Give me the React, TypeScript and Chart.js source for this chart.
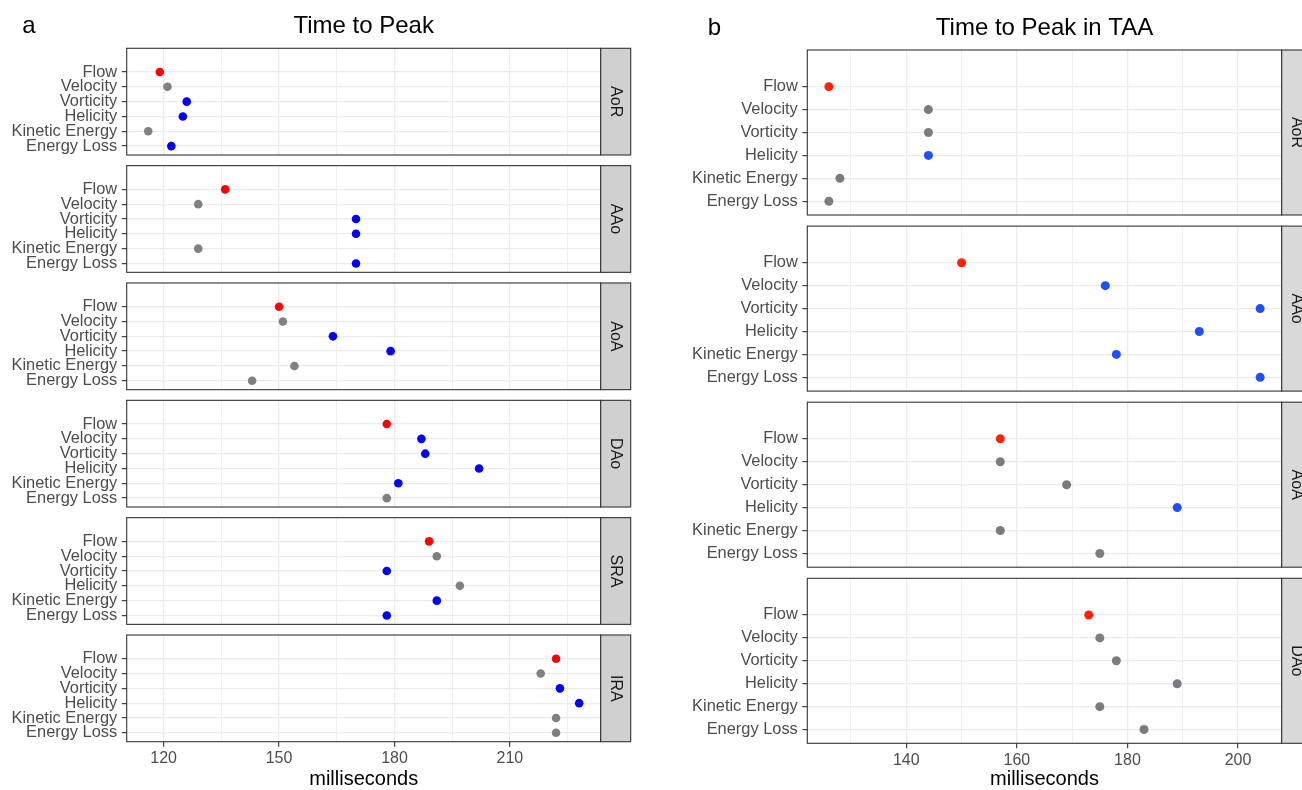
import React, { useEffect, useRef } from 'react';
import { Chart, registerables } from 'chart.js';

Chart.register(...registerables);

// ---------- DATA ----------
const metrics = ['Flow', 'Velocity', 'Vorticity', 'Helicity', 'Kinetic Energy', 'Energy Loss'];

// Panel a: Time to Peak (ms)
const regionsA = ['AoR', 'AAo', 'AoA', 'DAo', 'SRA', 'IRA'];
const aAoR = [119, 121, 126, 125, 116, 122];
const aAAo = [136, 129, 170, 170, 129, 170];
const aAoA = [150, 151, 164, 179, 154, 143];
const aDAo = [178, 187, 188, 202, 181, 178];
const aSRA = [189, 191, 178, 197, 191, 178];
const aIRA = [222, 218, 223, 228, 222, 222];
// group per point: ref = reference (Flow), sig = significant, ns = not significant
const gaAoR = ['ref', 'ns', 'sig', 'sig', 'ns', 'sig'];
const gaAAo = ['ref', 'ns', 'sig', 'sig', 'ns', 'sig'];
const gaAoA = ['ref', 'ns', 'sig', 'sig', 'ns', 'ns'];
const gaDAo = ['ref', 'sig', 'sig', 'sig', 'sig', 'ns'];
const gaSRA = ['ref', 'ns', 'sig', 'ns', 'sig', 'sig'];
const gaIRA = ['ref', 'ns', 'sig', 'sig', 'ns', 'ns'];
const xMajorA = [120, 150, 180, 210];
const xMinorA = [135, 165, 195, 225];

// Panel b: Time to Peak in TAA (ms)
const regionsB = ['AoR', 'AAo', 'AoA', 'DAo'];
const bAoR = [126, 144, 144, 144, 128, 126];
const bAAo = [150, 176, 204, 193, 178, 204];
const bAoA = [157, 157, 169, 189, 157, 175];
const bDAo = [173, 175, 178, 189, 175, 183];
const gbAoR = ['ref', 'ns', 'ns', 'sig', 'ns', 'ns'];
const gbAAo = ['ref', 'sig', 'sig', 'sig', 'sig', 'sig'];
const gbAoA = ['ref', 'ns', 'ns', 'sig', 'ns', 'ns'];
const gbDAo = ['ref', 'ns', 'ns', 'ns', 'ns', 'ns'];
const xMajorB = [140, 160, 180, 200];
const xMinorB = [130, 150, 170, 190];

// ---------- STYLE / LAYOUT ----------
const FONT = '"Liberation Sans", Arial, Helvetica, sans-serif';
const H = 790;

const panelA = {
  canvasLeft: 0, canvasWidth: 634, plotLeft: 126.7, plotRight: 600.7, stripW: 30,
  stripFill: '#D0D0D0', top0: 48.3, pitch: 117.34, h: 106.7, radius: 4.3,
  palette: { ref: '#FF0000', sig: '#0000FF', ns: '#808080' } as Record<string, string>,
  xMajor: xMajorA, xMinor: xMinorA,
  title: 'Time to Peak', titleBaseline: 32.5, tag: 'a', tagX: 29, tagBaseline: 33,
  facets: [
    { name: regionsA[0], values: aAoR, groups: gaAoR },
    { name: regionsA[1], values: aAAo, groups: gaAAo },
    { name: regionsA[2], values: aAoA, groups: gaAoA },
    { name: regionsA[3], values: aDAo, groups: gaDAo },
    { name: regionsA[4], values: aSRA, groups: gaSRA },
    { name: regionsA[5], values: aIRA, groups: gaIRA },
  ],
};

const panelB = {
  canvasLeft: 680, canvasWidth: 640, plotLeft: 807.3, plotRight: 1281.7, stripW: 30,
  stripFill: '#D9D9D9', top0: 50, pitch: 176.1, h: 165, radius: 4.5,
  palette: { ref: '#FF2200', sig: '#1F4EFF', ns: '#7E7A82' } as Record<string, string>,
  xMajor: xMajorB, xMinor: xMinorB,
  title: 'Time to Peak in TAA', titleBaseline: 34.5, tag: 'b', tagX: 714.5, tagBaseline: 35,
  facets: [
    { name: regionsB[0], values: bAoR, groups: gbAoR },
    { name: regionsB[1], values: bAAo, groups: gbAAo },
    { name: regionsB[2], values: bAoA, groups: gbAoA },
    { name: regionsB[3], values: bDAo, groups: gbDAo },
  ],
};

const facetDecor = {
  id: 'facetDecor',
  afterDraw(chart: any, _args: any, opts: any) {
    const { ctx, chartArea: a } = chart;
    ctx.save();
    ctx.strokeStyle = '#333333';
    ctx.lineWidth = 1.1;
    ctx.strokeRect(a.left, a.top, a.right - a.left, a.bottom - a.top);
    // strip
    ctx.fillStyle = opts.stripFill;
    ctx.fillRect(a.right, a.top, opts.stripW, a.bottom - a.top);
    ctx.strokeRect(a.right, a.top, opts.stripW, a.bottom - a.top);
    ctx.save();
    ctx.translate(a.right + opts.stripW / 2, (a.top + a.bottom) / 2);
    ctx.rotate(Math.PI / 2);
    ctx.fillStyle = '#1A1A1A';
    ctx.font = `16px ${FONT}`;
    ctx.textAlign = 'center';
    ctx.textBaseline = 'middle';
    ctx.fillText(opts.strip, 0, 0);
    ctx.restore();
    if (opts.title) {
      ctx.fillStyle = '#000000';
      ctx.font = `24px ${FONT}`;
      ctx.textAlign = 'center';
      ctx.textBaseline = 'alphabetic';
      ctx.fillText(opts.title, (a.left + a.right) / 2, opts.titleBaseline);
      ctx.fillText(opts.tag, opts.tagX, opts.tagBaseline);
    }
    ctx.restore();
  },
};

function FacetChart({ panel, index }: { panel: any; index: number }) {
  const ref = useRef<HTMLCanvasElement | null>(null);
  useEffect(() => {
    const canvas = ref.current;
    if (!canvas) return;
    const facet = panel.facets[index];
    const isFirst = index === 0;
    const isLast = index === panel.facets.length - 1;
    const top = panel.top0 + index * panel.pitch;
    const bottom = top + panel.h;

    const all: number[] = panel.facets.flatMap((f: any) => f.values);
    const dMin = Math.min(...all);
    const dMax = Math.max(...all);
    const span = dMax - dMin;
    const xMin = dMin - 0.05 * span;
    const xMax = dMax + 0.05 * span;
    const allTicks = [...panel.xMajor, ...panel.xMinor].sort((p: number, q: number) => p - q);
    const isMajor = (v: number) => panel.xMajor.includes(v);

    const chart = new Chart(canvas, {
      type: 'scatter',
      data: {
        datasets: [
          {
            data: facet.values.map((v: number, i: number) => ({ x: v, y: i + 1 })),
            pointBackgroundColor: facet.groups.map((g: string) => panel.palette[g]),
            pointBorderWidth: 0,
            pointRadius: panel.radius,
            pointHoverRadius: panel.radius,
          },
        ],
      },
      options: {
        responsive: false,
        animation: false,
        events: [],
        layout: {
          autoPadding: false,
          padding: {
            top: top,
            bottom: isLast ? 0 : H - bottom,
            left: 0,
            right: panel.canvasWidth - (panel.plotRight - panel.canvasLeft),
          },
        },
        plugins: {
          legend: { display: false },
          tooltip: { enabled: false },
          facetDecor: {
            strip: facet.name,
            stripFill: panel.stripFill,
            stripW: panel.stripW,
            title: isFirst ? panel.title : null,
            titleBaseline: panel.titleBaseline,
            tag: panel.tag,
            tagX: panel.tagX - panel.canvasLeft,
            tagBaseline: panel.tagBaseline,
          },
        } as any,
        scales: {
          x: {
            type: 'linear',
            min: xMin,
            max: xMax,
            afterBuildTicks: (s: any) => {
              s.ticks = allTicks.map((v: number) => ({ value: v }));
            },
            afterFit: (s: any) => {
              s.height = isLast ? H - bottom : 0;
            },
            border: { display: false },
            grid: {
              color: '#EBEBEB',
              lineWidth: (c: any) => (isMajor(c.tick.value) ? 1.3 : 0.8),
              drawTicks: isLast,
              tickLength: 5,
              tickColor: (c: any) => (isMajor(c.tick.value) ? '#333333' : 'rgba(0,0,0,0)'),
              tickWidth: 1.1,
            },
            ticks: {
              display: isLast,
              autoSkip: false,
              maxRotation: 0,
              padding: 2.5,
              color: '#4D4D4D',
              font: { family: FONT, size: 16 },
              callback: (v: any) => (isMajor(Number(v)) ? String(v) : ''),
            },
            title: {
              display: isLast,
              text: 'milliseconds',
              color: '#000000',
              font: { family: FONT, size: 20, lineHeight: 1.1 },
              padding: { top: 0, bottom: 0 },
            },
          },
          y: {
            type: 'linear',
            min: -0.6,
            max: 6.6,
            reverse: true,
            afterBuildTicks: (s: any) => {
              s.ticks = metrics.map((_m, i) => ({ value: i + 1 }));
            },
            afterFit: (s: any) => {
              s.width = panel.plotLeft - panel.canvasLeft;
            },
            border: { display: false },
            grid: {
              color: '#EBEBEB',
              lineWidth: 1.3,
              drawTicks: true,
              tickLength: 5,
              tickColor: '#333333',
              tickWidth: 1.1,
            },
            ticks: {
              autoSkip: false,
              padding: 4.5,
              color: '#4D4D4D',
              font: { family: FONT, size: 16.4 },
              callback: (v: any) => metrics[Number(v) - 1] ?? '',
            },
          },
        },
      },
      plugins: [facetDecor],
    } as any);
    return () => chart.destroy();
  }, [panel, index]);

  return (
    <canvas
      ref={ref}
      width={panel.canvasWidth}
      height={H}
      style={{
        position: 'absolute',
        left: panel.canvasLeft,
        top: 0,
        width: panel.canvasWidth,
        height: H,
      }}
    />
  );
}

export default function App() {
  return (
    <div
      style={{
        position: 'absolute',
        left: 0,
        top: 0,
        width: 1302,
        height: 790,
        overflow: 'hidden',
        background: '#FFFFFF',
      }}
    >
      {panelA.facets.map((_f, i) => (
        <FacetChart key={'a' + i} panel={panelA} index={i} />
      ))}
      {panelB.facets.map((_f, i) => (
        <FacetChart key={'b' + i} panel={panelB} index={i} />
      ))}
    </div>
  );
}
